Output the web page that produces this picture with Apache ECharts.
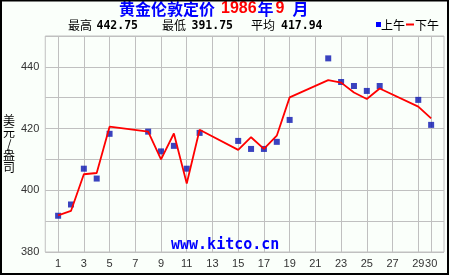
<!DOCTYPE html>
<html>
<head>
<meta charset="utf-8">
<script src="https://cdn.jsdelivr.net/npm/echarts@6/dist/echarts.min.js"></script>
<style>
html,body{margin:0;padding:0;background:#fafffa;}
#chart{width:450px;height:275px;}
</style>
</head>
<body>
<div id="chart"></div>
<script>
// ---- data ----
const titleMain = '黄金伦敦定价';
const titleYear = '1986';
const titleMonth = '9';
const days = [1, 2, 3, 4, 5, 8, 9, 10, 11, 12, 15, 16, 17, 18, 19, 22, 23, 24, 25, 26, 29, 30];
const amPrices = [391.75, 395.4, 407.0, 403.8, 418.3, 419.0, 412.6, 414.4, 407.0, 418.6, 416.0, 413.4, 413.4, 415.7, 422.8, 442.75, 435.1, 433.8, 432.2, 433.8, 429.3, 421.2];
const pmPrices = [391.9, 393.3, 405.2, 405.6, 420.6, 419.0, 410.0, 418.4, 402.2, 419.6, 413.1, 417.2, 413.4, 417.7, 430.1, 435.7, 434.9, 431.7, 429.6, 433.0, 427.1, 423.3];
const xTickDays = [1, 3, 5, 7, 9, 11, 13, 15, 17, 19, 21, 23, 25, 27, 29, 30];
const yTickLabels = [380, 400, 420, 440];
const statLabels = ['最高', '最低', '平均'];
const statValues = ['442.75', '391.75', '417.94'];
const seriesNames = ['上午', '下午'];
const yAxisName = '美元/盎司';
const watermark = 'www.kitco.cn';

// x axis categories: day slots 0..31
const xCategories = [];
for (let d = 0; d <= 31; d++) xCategories.push(String(d));

const chart = echarts.init(document.getElementById('chart'), null, {renderer: 'canvas'});

const statX = [[68, 96.5], [162, 191.5], [251, 281]];
const statGraphics = [];
statLabels.forEach((lab, i) => {
  statGraphics.push({type: 'text', x: statX[i][0], y: 25.5, z: 10,
    style: {text: lab, font: '12px "Noto Sans CJK SC"', fill: '#000', verticalAlign: 'middle'}});
  statGraphics.push({type: 'text', x: statX[i][1], y: 26, z: 10,
    style: {text: statValues[i], font: 'bold 11.5px "DejaVu Sans Mono"', fill: '#000', verticalAlign: 'middle'}});
});

const option = {
  backgroundColor: '#fafffa',
  animation: false,
  title: {
    left: 119, top: 0, padding: [1, 0, 0, 0],
    text: '{b|' + titleMain + '}{r|' + titleYear + '}{n|年}{r|' + titleMonth + '}{m|月}',
    textStyle: {
      rich: {
        b: {color: '#0000ff', fontSize: 16, fontWeight: 'bold', fontFamily: 'Noto Sans CJK SC', padding: [0, 6, 0, 0]},
        n: {color: '#0000ff', fontSize: 16, fontWeight: 'bold', fontFamily: 'Noto Sans CJK SC', padding: [0, 2, 0, 1]},
        m: {color: '#0000ff', fontSize: 16, fontWeight: 'bold', fontFamily: 'Noto Sans CJK SC', padding: [0, 0, 0, 8]},
        r: {color: '#ff0000', fontSize: 16, fontFamily: 'Liberation Sans'}
      }
    }
  },
  grid: {left: 40, right: 6, top: 36, bottom: 23, show: true, borderColor: '#c0c0c0', borderWidth: 1, backgroundColor: 'transparent'},
  xAxis: {
    type: 'category',
    data: xCategories,
    boundaryGap: false,
    axisLine: {show: false},
    axisTick: {show: false},
    axisLabel: {
      interval: 0,
      margin: 6,
      color: '#333',
      fontSize: 11,
      fontFamily: 'Liberation Sans',
      formatter: v => xTickDays.includes(+v) ? v : ''
    },
    splitLine: {
      show: true,
      interval: (idx, v) => xTickDays.includes(+v),
      lineStyle: {color: '#c0c0c0', width: 1}
    }
  },
  yAxis: {
    type: 'value',
    min: 380, max: 450, interval: 10,
    name: yAxisName.split('').join('\n'),
    nameLocation: 'middle',
    nameRotate: 0,
    nameGap: 31,
    nameTextStyle: {color: '#000', fontSize: 12, fontFamily: 'Noto Sans CJK SC', lineHeight: 11.6, align: 'center', verticalAlign: 'middle'},
    axisLine: {show: false},
    axisTick: {show: false},
    axisLabel: {
      margin: 6, color: '#333', fontSize: 11, fontFamily: 'Liberation Sans',
      formatter: v => yTickLabels.includes(v) ? String(v) : ''
    },
    splitLine: {show: true, lineStyle: {color: '#c0c0c0', width: 1}}
  },
  series: [
    {
      name: seriesNames[0], type: 'scatter', z: 2,
      symbol: 'rect', symbolSize: 6,
      itemStyle: {color: '#0a14b0'},
      data: days.map((d, i) => [String(d), amPrices[i]])
    },
    {
      name: seriesNames[1], type: 'line', z: 3,
      symbol: 'none', showSymbol: false,
      lineStyle: {color: '#ff0000', width: 1.8},
      data: days.map((d, i) => [String(d), pmPrices[i]])
    }
  ],
  graphic: [
    {type: 'rect', z: 20, shape: {x: 1, y: 0.5, width: 447, height: 273.5}, style: {fill: 'none', stroke: '#000', lineWidth: 2}},
    ...statGraphics,
    {type: 'rect', z: 10, shape: {x: 376, y: 22, width: 5, height: 5}, style: {fill: '#0000ff'}},
    {type: 'text', z: 10, x: 381, y: 25, style: {text: seriesNames[0], font: '12px "Noto Sans CJK SC"', fill: '#000', verticalAlign: 'middle'}},
    {type: 'rect', z: 10, shape: {x: 406, y: 23.5, width: 8, height: 2}, style: {fill: '#ff0000'}},
    {type: 'text', z: 10, x: 415, y: 25, style: {text: seriesNames[1], font: '12px "Noto Sans CJK SC"', fill: '#000', verticalAlign: 'middle'}},
    {type: 'text', z: 10, x: 171, y: 245.5, style: {text: watermark, font: 'bold 15px "DejaVu Sans Mono"', fill: '#0000ff', verticalAlign: 'middle'}}
  ]
};
chart.setOption(option);
</script>
</body>
</html>
